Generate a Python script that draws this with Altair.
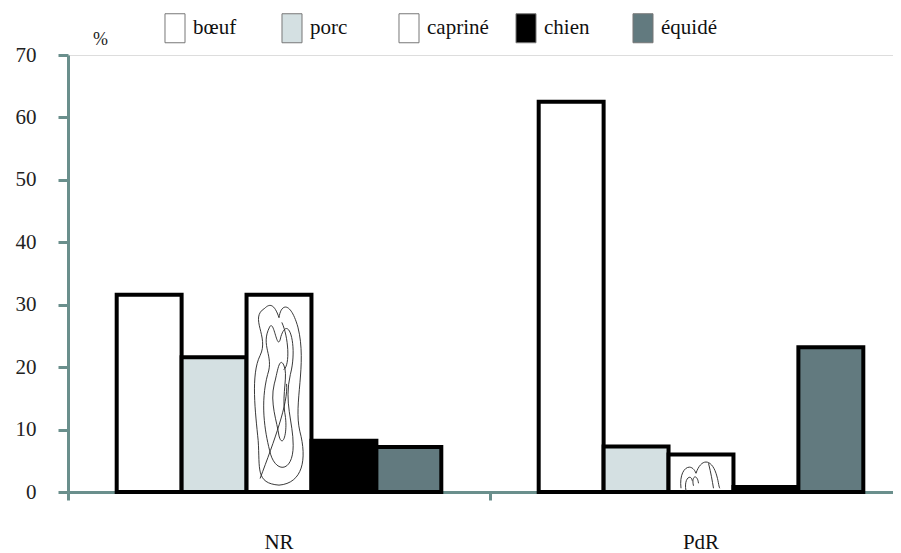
import altair as alt
import pandas as pd

sites = ["NR", "PdR"]
animals = ["bœuf", "porc", "capriné", "chien", "équidé"]
values_NR = [31.6, 21.6, 31.6, 8.2, 7.2]
values_PdR = [62.5, 7.3, 6.0, 0.8, 23.2]
colors = ["#ffffff", "#d4e0e2", "#ffffff", "#000000", "#627a7f"]

rows = []
for site, vals in zip(sites, [values_NR, values_PdR]):
    for a, v in zip(animals, vals):
        rows.append({"site": site, "animal": a, "value": v})
df = pd.DataFrame(rows)

FONT = "Liberation Serif"
AXIS_COLOR = "#6a8f8c"

# decorative squiggle textures for the capriné bars
squiggle_NR = (
    "M-0.15,-0.9 C-0.32,-0.8 -0.1,-0.6 -0.2,-0.4 C-0.3,-0.2 -0.25,0.2 -0.22,0.5 "
    "C-0.2,0.8 -0.25,0.95 0,0.97 C0.25,0.95 0.3,0.7 0.22,0.4 C0.15,0.1 0.3,-0.3 0.2,-0.7 "
    "C0.12,-0.98 0.02,-0.95 0.0,-0.8 C-0.05,-0.95 -0.1,-0.95 -0.15,-0.9 Z "
    "M-0.1,-0.7 C-0.2,-0.5 -0.05,-0.4 -0.12,-0.2 C-0.2,0.1 -0.15,0.4 -0.1,0.6 "
    "C-0.05,0.85 0.15,0.85 0.15,0.55 C0.15,0.3 0.05,0.1 0.12,-0.2 C0.2,-0.5 0.1,-0.85 0.02,-0.6 "
    "C-0.02,-0.4 -0.05,-0.8 -0.1,-0.7 Z "
    "M-0.05,-0.1 C-0.1,0.1 -0.02,0.3 0.0,0.45 C0.04,0.6 0.1,0.4 0.06,0.2 "
    "C0.03,0.0 0.1,-0.2 0.05,-0.3 C0.0,-0.4 -0.02,-0.2 -0.05,-0.1 Z "
    "M0.03,-0.75 C0.1,-0.6 0.12,-0.3 0.05,-0.25 M-0.2,0.9 C-0.05,0.5 0.1,0.1 0.08,-0.1"
)
squiggle_PdR = (
    "M-0.8,0.6 C-0.9,-0.2 -0.4,-0.5 -0.2,0.0 C0.0,-0.6 0.4,-0.6 0.6,0.0 "
    "C0.7,0.3 0.7,0.5 0.75,0.6 M-0.6,0.7 C-0.7,0.2 -0.4,0.0 -0.35,0.3 "
    "M-0.3,0.5 C-0.4,0.1 -0.15,0.0 -0.1,0.4 M0.3,-0.4 C0.4,0.0 0.45,0.3 0.5,0.6"
)

x_scale = alt.Scale(domain=sites, range=[0, 844], paddingInner=0, paddingOuter=0)
x_enc = alt.X(
    "site:N",
    scale=x_scale,
    axis=alt.Axis(
        title=None, bandPosition=0, labelPadding=31,
        labelAngle=0, labelFont=FONT, labelFontSize=21, labelColor="#111",
        domainColor=AXIS_COLOR, domainWidth=3, tickColor=AXIS_COLOR,
        tickWidth=3, tickSize=8,
    ),
)
xoff_enc = alt.XOffset(
    "animal:N",
    scale=alt.Scale(domain=animals, paddingInner=0, paddingOuter=0.75),
)
y_scale = alt.Scale(domain=[0, 70], nice=False)

bars = alt.Chart(df).mark_bar(
    stroke="black", strokeWidth=4, strokeJoin="miter"
).encode(
    x=x_enc,
    xOffset=xoff_enc,
    y=alt.Y(
        "value:Q", scale=y_scale,
        axis=alt.Axis(
            title="%", titleAngle=0, titleX=32, titleY=-16, titleAlign="center",
            titleBaseline="middle", titleFont=FONT, titleFontSize=18,
            titleFontWeight="normal", titleColor="#222",
            values=[0, 10, 20, 30, 40, 50, 60, 70], grid=False,
            labelFont=FONT, labelFontSize=21, labelColor="#222", labelPadding=22,
            domainColor=AXIS_COLOR, domainWidth=3, tickColor=AXIS_COLOR,
            tickWidth=3, tickSize=10,
        ),
    ),
    fill=alt.Fill(
        "animal:N",
        scale=alt.Scale(domain=animals, range=colors),
        legend=alt.Legend(
            title=None, orient="none", legendX=92, legendY=-42,
            direction="horizontal", columns=5, gridAlign="all", columnPadding=22,
            symbolType="M-0.69,-1H0.69V1H-0.69Z", symbolSize=841,
            symbolStrokeColor="#777", symbolStrokeWidth=1, symbolOpacity=1,
            labelFont=FONT, labelFontSize=21, labelColor="#111", labelOffset=3,
        ),
    ),
)

def squiggle(site, path, size):
    return alt.Chart(df).transform_filter(
        (alt.datum.site == site) & (alt.datum.animal == "capriné")
    ).transform_calculate(mid="datum.value / 2").mark_point(
        shape=path, size=size, filled=False, stroke="#222", strokeWidth=0.9, opacity=1
    ).encode(
        x=alt.X("site:N", scale=x_scale),
        xOffset=xoff_enc,
        y=alt.Y("mid:Q", scale=y_scale),
    )

chart = alt.layer(
    bars,
    squiggle("NR", squiggle_NR, 35800),
    squiggle("PdR", squiggle_PdR, 2500),
).properties(
    width=825, height=437,
    autosize=alt.AutoSizeParams(type="none"),
    padding={"left": 60, "top": 47, "right": 0, "bottom": 60},
).configure_view(stroke=None).configure(background="white", font=FONT)

chart.save("out.html", embed_options={"renderer": "svg", "actions": False})
